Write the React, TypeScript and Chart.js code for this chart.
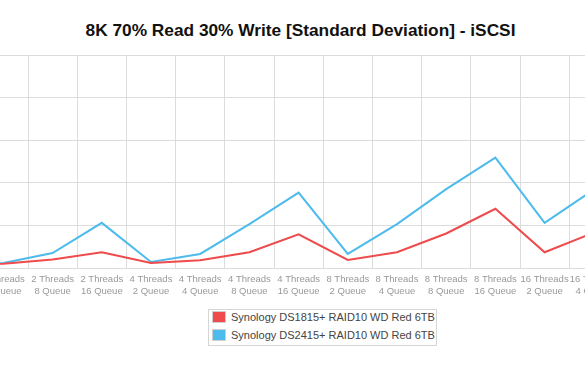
import React, { useEffect, useRef } from "react";
import { Chart, registerables } from "chart.js";

Chart.register(...registerables);

const chartTitle = "8K 70% Read 30% Write [Standard Deviation] - iSCSI";

const categories: string[][] = [
  ["2 Threads", "2 Queue"],
  ["2 Threads", "4 Queue"],
  ["2 Threads", "8 Queue"],
  ["2 Threads", "16 Queue"],
  ["4 Threads", "2 Queue"],
  ["4 Threads", "4 Queue"],
  ["4 Threads", "8 Queue"],
  ["4 Threads", "16 Queue"],
  ["8 Threads", "2 Queue"],
  ["8 Threads", "4 Queue"],
  ["8 Threads", "8 Queue"],
  ["8 Threads", "16 Queue"],
  ["16 Threads", "2 Queue"],
  ["16 Threads", "4 Queue"],
];

const seriesNames = [
  "Synology DS1815+ RAID10 WD Red 6TB",
  "Synology DS2415+ RAID10 WD Red 6TB",
];

const ds1815Values = [0.09, 0.1, 0.2, 0.37, 0.12, 0.18, 0.37, 0.79, 0.19, 0.37, 0.81, 1.39, 0.37, 0.83];
const ds2415Values = [0.11, 0.12, 0.35, 1.06, 0.14, 0.33, 1.03, 1.77, 0.33, 1.03, 1.85, 2.59, 1.06, 1.84];

const yTicks = [0, 1, 2, 3, 4, 5];

const RED = "#ef4a4c";
const BLUE = "#4dbbeb";
const FONT = '"Liberation Sans", Arial, Helvetica, sans-serif';

export default function App() {
  const canvasRef = useRef<HTMLCanvasElement | null>(null);

  useEffect(() => {
    if (!canvasRef.current) return;
    const chart = new Chart(canvasRef.current, {
      type: "line",
      data: {
        labels: categories,
        datasets: [
          {
            label: seriesNames[0],
            data: ds1815Values,
            borderColor: RED,
            backgroundColor: RED,
            borderWidth: 2,
            pointRadius: 0,
            tension: 0,
            fill: false,
          },
          {
            label: seriesNames[1],
            data: ds2415Values,
            borderColor: BLUE,
            backgroundColor: BLUE,
            borderWidth: 2,
            pointRadius: 0,
            tension: 0,
            fill: false,
          },
        ],
      },
      options: {
        responsive: false,
        animation: false,
        layout: { padding: { left: 19.6, right: 20.6, top: 5, bottom: 0 } },
        plugins: {
          legend: { display: false },
          title: { display: false },
          tooltip: { enabled: false },
        },
        scales: {
          x: {
            type: "category",
            offset: true,
            grid: { offset: true, color: "#dcdcdc", lineWidth: 1, drawTicks: false },
            border: { display: false },
            ticks: {
              color: "#999999",
              font: { family: FONT, size: 9.5, lineHeight: 1.22 },
              padding: 5.5,
              maxRotation: 0,
              minRotation: 0,
              autoSkip: false,
            },
            afterFit: (s: any) => {
              s.height = 40;
            },
          },
          y: {
            min: yTicks[0],
            max: yTicks[yTicks.length - 1],
            afterBuildTicks: (s: any) => {
              s.ticks = yTicks.map((v) => ({ value: v }));
            },
            grid: { color: "#dcdcdc", lineWidth: 1, drawTicks: false },
            border: { display: false },
            ticks: { display: false },
            afterFit: (s: any) => {
              s.width = 0;
            },
          },
        },
      },
    });
    return () => chart.destroy();
  }, []);

  return (
    <div
      style={{
        position: "fixed",
        left: 0,
        top: 0,
        width: 585,
        height: 370,
        overflow: "hidden",
        background: "#ffffff",
        fontFamily: FONT,
      }}
    >
      <div
        style={{
          position: "absolute",
          left: 0,
          top: 20,
          width: 601,
          textAlign: "center",
          fontWeight: "bold",
          fontSize: 17.3,
          lineHeight: "20px",
          color: "#111",
          whiteSpace: "nowrap",
        }}
      >
        {chartTitle}
      </div>
      <canvas
        ref={canvasRef}
        width={729}
        height={258}
        style={{ position: "absolute", left: -90, top: 50, width: 729, height: 258 }}
      />
      <div
        style={{
          position: "absolute",
          left: 208,
          top: 309,
          width: 227,
          height: 35,
          border: "1px solid #d6d6d6",
        }}
      >
        {seriesNames.map((name, i) => (
          <div
            key={name}
            style={{
              position: "absolute",
              left: 3,
              top: -2 + i * 18,
              height: 18,
              display: "flex",
              alignItems: "center",
              whiteSpace: "nowrap",
            }}
          >
            <span
              style={{
                display: "inline-block",
                width: 12,
                height: 10,
                background: i === 0 ? RED : BLUE,
                border: "1px solid #cfcfcf",
                marginRight: 5,
              }}
            />
            <span style={{ fontSize: 11, color: "#444" }}>{name}</span>
          </div>
        ))}
      </div>
    </div>
  );
}
